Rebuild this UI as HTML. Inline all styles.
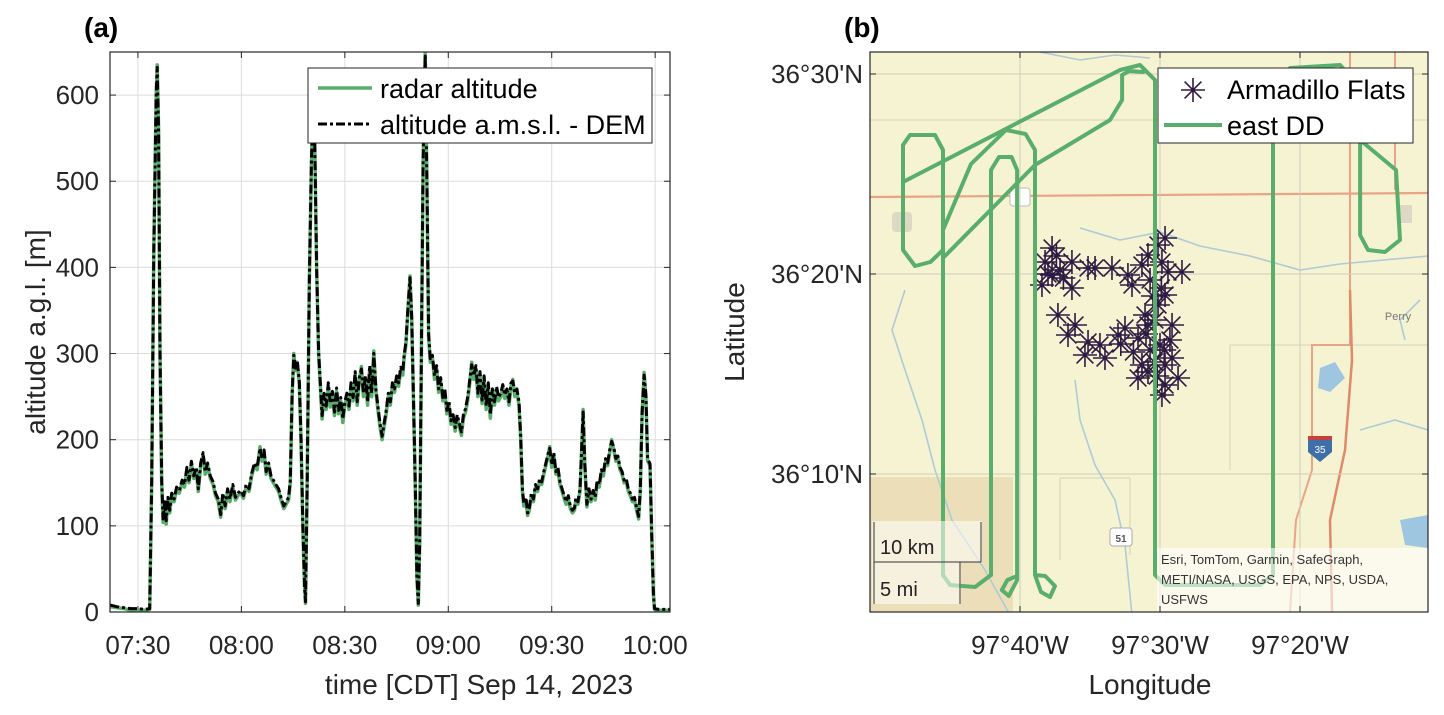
<!DOCTYPE html>
<html><head><meta charset="utf-8">
<style>
html,body{margin:0;padding:0;background:#fff;}
svg{display:block;font-family:"Liberation Sans",Arial,sans-serif;}
</style></head>
<body>
<svg id="fig" width="1444" height="715" viewBox="0 0 1444 715" xmlns="http://www.w3.org/2000/svg">
  <g id="panelA"></g>
  <g id="panelB"></g>
</svg>
<script>
// ---------------- Panel (a) data ----------------
const timeMin = [22,24,26,28,30,32,33.4,34.0,34.6,35.3,35.6,36.0,36.4,36.9,37.3,37.8,38.2,38.7,39.2,39.8,40.5,41.2,42.0,42.8,43.5,44.2,44.8,45.5,46.2,46.9,47.5,48.2,48.9,49.5,50.2,51.0,51.8,52.5,53.3,54.0,54.6,55.3,56.0,56.7,57.5,58.3,59.0,59.8,60.6,61.4,62.2,63.0,63.8,64.6,65.4,66.0,66.6,67.2,67.9,68.6,69.3,70.0,70.8,71.5,72.3,73.0,73.7,74.2,74.7,75.2,75.7,76.2,76.8,77.3,77.8,78.3,78.6,79.1,79.7,80.3,80.8,81.3,81.8,82.4,83.4,84.0,84.6,85.2,85.8,86.4,87.0,87.6,88.2,88.8,89.4,90.0,90.6,91.2,91.8,92.4,93.0,93.6,94.2,94.8,95.4,96.0,96.6,97.2,97.8,98.4,99.0,99.6,100.2,100.8,101.4,102.0,102.6,103.2,103.8,104.4,105.0,105.6,106.2,106.8,107.2,107.7,108.3,108.9,109.4,109.9,110.4,110.9,111.3,111.7,112.2,112.7,113.3,113.8,114.3,114.8,115.4,116.0,116.6,117.2,117.8,118.4,119.0,119.6,120.2,120.8,121.4,122.0,122.6,123.2,123.8,124.4,125.0,125.6,126.2,126.8,127.4,128.0,128.6,129.2,129.8,130.4,131.0,131.6,132.2,132.8,133.4,134.0,134.6,135.2,135.8,136.4,137.0,137.6,138.2,138.7,139.3,139.9,140.5,141.0,141.5,141.9,142.5,143.0,143.5,144.1,144.7,145.3,145.9,146.5,147.1,147.7,148.3,148.9,149.4,150.0,150.6,151.2,151.8,152.4,153.0,153.6,154.2,154.8,155.4,156.0,156.6,157.0,157.6,158.2,158.6,159.1,159.6,160.2,160.8,161.4,162.0,162.6,163.2,163.8,164.4,165.0,165.6,166.2,166.8,167.4,168.0,168.6,169.2,169.8,170.4,171.0,171.6,172.2,172.8,173.4,174.0,174.6,175.2,175.7,176.2,176.8,177.3,177.8,178.5,179.0,179.5,179.8,181,183,184.3];
const radarAlt = [6,5,4,2,3,2,3,150,420,600,635,560,300,150,104,125,102,130,115,135,128,142,138,150,145,165,150,172,155,165,140,170,182,160,170,155,148,135,128,110,135,120,140,128,145,130,135,138,132,145,140,158,170,165,192,175,185,160,170,155,150,145,140,130,120,125,130,150,250,300,280,290,265,200,100,30,10,150,380,520,590,540,400,300,224,250,235,262,238,252,228,256,230,245,220,240,250,235,262,245,275,240,268,285,250,270,240,282,250,303,255,235,215,200,215,230,250,240,262,255,270,262,280,275,295,310,350,390,340,250,150,40,8,80,300,520,648,500,320,290,295,270,282,255,268,245,255,230,240,218,225,210,225,215,205,225,232,245,265,290,270,282,250,275,242,270,235,262,225,255,240,258,245,250,260,248,255,240,262,270,250,255,240,200,140,123,130,112,118,135,128,145,140,152,148,160,170,180,192,168,182,160,165,148,140,132,125,132,120,115,118,130,125,140,180,235,170,122,140,128,138,130,150,145,162,158,175,170,185,200,188,175,178,165,160,150,152,140,135,128,130,118,108,140,230,278,250,175,170,90,20,3,2,2,2];
const demAlt = [8,6,5,4,4,3,4,152,418,602,632,555,302,152,108,128,106,133,118,138,131,145,141,153,148,168,153,175,158,168,143,173,185,163,173,158,151,138,131,113,138,123,143,131,148,133,138,141,135,148,143,161,173,168,190,178,188,163,173,158,153,148,143,133,123,128,133,153,252,298,283,292,268,203,103,32,12,152,382,522,588,542,402,302,228,254,239,266,242,256,232,260,234,249,224,244,254,239,266,249,279,244,272,282,254,274,244,286,254,300,259,239,219,204,219,234,254,244,266,259,274,266,284,279,298,313,352,388,342,252,152,42,10,82,302,522,645,502,323,294,298,274,286,259,272,249,259,234,244,222,229,214,229,219,209,229,236,249,269,287,274,286,254,279,246,274,239,266,229,259,244,262,249,254,264,252,259,244,266,268,254,259,244,204,143,126,133,115,121,138,131,148,143,155,151,163,173,183,190,171,185,163,168,151,143,135,128,135,123,118,121,133,128,143,182,232,173,125,143,131,141,133,153,148,165,161,178,173,188,198,191,178,181,168,163,153,155,143,138,131,133,121,111,142,232,275,252,178,172,92,22,4,3,3,3];
const xTickMin = [30,60,90,120,150,180];
const xTickLabels = ["07:30","08:00","08:30","09:00","09:30","10:00"];
const yTicks = [0,100,200,300,400,500,600];

// ---------------- Panel (b) data ----------------
// longitude in arc-minutes west of 97°, latitude in arc-minutes north of 36°
const lonTicks = [40,30,20];
const lonTickLabels = ["97°40'W","97°30'W","97°20'W"];
const latTicks = [30,20,10];
const latTickLabels = ["36°30'N","36°20'N","36°10'N"];
const flatsLon = [37.71,38.21,37.71,38.43,36.29,36.29,34.64,33.43,32.29,32.0,31.29,30.86,30.14,29.64,29.86,29.43,28.43,29.64,30.14,37.29,36.07,36.57,35.14,35.36,33.93,33.0,32.5,31.57,31.07,30.86,31.29,30.86,29.64,29.14,29.14,28.71,29.64,29.86,31.57,37.14,35.14,30.71,30.36,30.0,34.29,30.71,29.29,38.0,37.4,36.9,32.8,31.9,30.5,29.9,30.4,31.0,29.7,30.2];
const flatsLat = [21.3,20.6,19.95,19.45,19.3,20.6,20.3,20.3,19.95,19.45,20.45,20.95,21.45,21.8,20.6,20.1,20.1,18.95,18.45,17.95,17.45,16.95,16.6,15.95,15.8,16.95,17.3,16.8,17.95,17.45,15.45,15.1,15.45,15.8,17.45,14.8,14.45,13.95,14.8,20.2,20.3,19.7,17.7,16.45,16.45,16.2,16.7,20.0,20.9,19.8,16.5,16.1,18.9,19.3,15.6,17.0,16.2,14.9];
const track1Lon = [45.5,45.5,46.07,47.86,48.36,48.36,47.5,46.4,45.5];
const track1Lat = [4.95,26.2,26.95,26.95,26.45,21.2,20.4,20.6,21.2];
const track2Lon = [48.36,32.86,31.43,30.36,30.36,29.64,22.86,21.93,21.93,20.71,17.14,15.86,15.71,13.14,12.86,13.93,15.14,15.71,15.71];
const track2Lat = [24.6,30.2,30.45,29.7,4.95,4.45,4.45,4.95,29.45,30.3,30.45,29.45,26.7,25.2,21.7,21.1,21.2,21.95,26.7];
const track3Lon = [45.5,38.93,33.57,32.71,32.71,32.2,31.2];
const track3Lat = [20.8,25.45,27.7,28.7,29.95,30.15,30.1];
const track4Lon = [45.5,43.5,41.0,39.6,38.93,38.93,38.5,37.86,37.5,38.2,38.93];
const track4Lat = [22.2,25.5,27.2,27.0,26.2,4.95,4.1,3.85,4.4,4.9,4.95];
const track5Lon = [42.07,42.07,41.5,40.6,40.21,40.21,40.8,41.3,40.9,40.21];
const track5Lat = [4.95,25.2,25.85,25.85,25.2,4.7,3.9,4.2,4.7,4.9];
const track6Lon = [45.5,45.0,43.21,42.07];
const track6Lat = [4.95,4.45,4.35,4.95];

const NS = "http://www.w3.org/2000/svg";
function mk(parent, tag, attrs, text){
  const el = document.createElementNS(NS, tag);
  for (const k in attrs) el.setAttribute(k, attrs[k]);
  if (text !== undefined) el.textContent = text;
  parent.appendChild(el);
  return el;
}
const TICK_FS = 26, TITLE_FS = 28, LEG_FS = 27;

// ---------- Panel (a) ----------
const A = document.getElementById('panelA');
const AX = {l:110, r:670, t:52, b:612, tmin:21.9, tmax:184.3, vmax:650};
const xa = t => AX.l + (t - AX.tmin) * (AX.r - AX.l) / (AX.tmax - AX.tmin);
const ya = v => AX.b - v * (AX.b - AX.t) / AX.vmax;

let bgA = mk(A,'rect',{x:AX.l,y:AX.t,width:AX.r-AX.l,height:AX.b-AX.t,fill:'#fff'});



xTickMin.forEach((t,i)=>{
  const g = mk(A,'line',{x1:xa(t),x2:xa(t),y1:AX.t,y2:AX.b,stroke:'#dcdcdc','stroke-width':1});
  
  
  mk(A,'line',{x1:xa(t),x2:xa(t),y1:AX.b,y2:AX.b-6,stroke:'#262626','stroke-width':1});
  mk(A,'line',{x1:xa(t),x2:xa(t),y1:AX.t,y2:AX.t+6,stroke:'#262626','stroke-width':1});
  const lb = mk(A,'text',{x:xa(t),y:654,'text-anchor':'middle','font-size':TICK_FS,fill:'#262626'},xTickLabels[i]);
  
  
});
yTicks.forEach(v=>{
  const g = mk(A,'line',{x1:AX.l,x2:AX.r,y1:ya(v),y2:ya(v),stroke:'#dcdcdc','stroke-width':1});
  
  
  mk(A,'line',{x1:AX.l,x2:AX.l+6,y1:ya(v),y2:ya(v),stroke:'#262626','stroke-width':1});
  mk(A,'line',{x1:AX.r,x2:AX.r-6,y1:ya(v),y2:ya(v),stroke:'#262626','stroke-width':1});
  const lb = mk(A,'text',{x:99,y:ya(v)+9,'text-anchor':'end','font-size':TICK_FS,fill:'#262626'},String(v));
  
  
});

function pts(xs, ys, fx, fy){ return xs.map((x,i)=>fx(x).toFixed(1)+','+fy(ys[i]).toFixed(1)).join(' '); }

const radarLine = mk(A,'polyline',{points:pts(timeMin,radarAlt,xa,ya),fill:'none',stroke:'#5aae6c','stroke-width':3.5,'stroke-linejoin':'round'});


const demLine = mk(A,'polyline',{points:pts(timeMin,demAlt,xa,ya),fill:'none',stroke:'#000','stroke-width':3,'stroke-dasharray':'9 3 3 3','stroke-linejoin':'round'});



const boxA = mk(A,'rect',{x:AX.l,y:AX.t,width:AX.r-AX.l,height:AX.b-AX.t,fill:'none',stroke:'#262626','stroke-width':1.2});



// legend a
const legA = mk(A,'g',{});


mk(legA,'rect',{x:308,y:68,width:344,height:75,fill:'#fff',stroke:'#262626','stroke-width':1});
mk(legA,'line',{x1:318,x2:372,y1:88,y2:88,stroke:'#5aae6c','stroke-width':3.5});
const le1 = mk(legA,'text',{x:380,y:98,'font-size':LEG_FS,fill:'#000'},'radar altitude');


mk(legA,'line',{x1:318,x2:372,y1:124,y2:124,stroke:'#000','stroke-width':3,'stroke-dasharray':'9 3 3 3'});
const le2 = mk(legA,'text',{x:380,y:134,'font-size':LEG_FS,fill:'#000'},'altitude a.m.s.l. - DEM');



const yl = mk(A,'text',{x:0,y:0,transform:'translate(45,332) rotate(-90)','text-anchor':'middle','font-size':TITLE_FS,fill:'#262626'},'altitude a.g.l. [m]');


const xl = mk(A,'text',{x:479,y:694,'text-anchor':'middle','font-size':TITLE_FS,fill:'#262626'},'time [CDT] Sep 14, 2023');


const ta = mk(A,'text',{x:84,y:37,'font-size':28,'font-weight':'bold',fill:'#000'},'(a)');



// ---------- Panel (b) ----------
const B = document.getElementById('panelB');
const BX = {l:870, r:1428, t:52, b:612};
const xb = m => 1020 + (40 - m) * 14;
const yb = m => 274 - (m - 20) * 20;

const defs = mk(B,'defs',{});
const cp = mk(defs,'clipPath',{id:'mapclip'});
mk(cp,'rect',{x:BX.l,y:BX.t,width:BX.r-BX.l,height:BX.b-BX.t});
const map = mk(B,'g',{'clip-path':'url(#mapclip)'});


mk(map,'rect',{x:BX.l,y:BX.t,width:BX.r-BX.l,height:BX.b-BX.t,fill:'#f6f3d2'});
mk(map,'rect',{x:870,y:477,width:143,height:140,fill:'#ebdeb8'});
[[870,120,1428,120],[1060,478,1130,478],[1230,345,1428,345],[1060,478,1060,560],[1230,345,1230,470],[1130,478,1130,555]].forEach(s=>{
  mk(map,'line',{x1:s[0],y1:s[1],x2:s[2],y2:s[3],stroke:'#e4dcc0','stroke-width':1.5});
});
['M905,290 L892,330 L905,370 L922,420 L935,470 L952,520 L985,570 L1010,615',
 'M1075,380 L1080,420 L1095,465 L1115,500 L1125,545 L1132,615',
 'M1080,228 L1120,240 L1160,232 L1200,246 L1250,256 L1300,270 L1340,264 L1428,256',
 'M1040,52 L1080,60 L1115,55 L1150,58',
 'M1420,300 L1400,320 L1405,340',
 'M1360,430 L1395,420 L1428,430'].forEach(d=>{
  mk(map,'path',{d:d,fill:'none',stroke:'#aecbd6','stroke-width':1.6});
});
mk(map,'path',{d:'M1320,368 L1335,362 L1345,378 L1330,392 L1318,388 Z',fill:'#9fc6e0'});
mk(map,'path',{d:'M1400,520 L1428,515 L1428,548 L1405,545 Z',fill:'#9fc6e0'});
mk(map,'path',{d:'M870,197 L1428,193',fill:'none',stroke:'#e9a486','stroke-width':2.2});
mk(map,'path',{d:'M1350,52 L1350,345 L1312,345 L1312,470 L1296,520 L1290,612',fill:'none',stroke:'#e9a486','stroke-width':2});
mk(map,'path',{d:'M1395,52 L1395,190',fill:'none',stroke:'#e9a486','stroke-width':2});
mk(map,'path',{d:'M1350,290 L1352,360 L1345,450 L1330,520 L1332,612',fill:'none',stroke:'#e08a6a','stroke-width':2.5});
mk(map,'rect',{x:892,y:212,width:20,height:20,rx:4,fill:'#ded8c4'});
mk(map,'rect',{x:1400,y:205,width:12,height:18,fill:'#ded8c4'});
mk(map,'rect',{x:1010,y:188,width:20,height:18,rx:3,fill:'#fff',stroke:'#bbb'});
mk(map,'rect',{x:1110,y:528,width:22,height:18,rx:3,fill:'#fff',stroke:'#aaa'});
mk(map,'text',{x:1121,y:542,'text-anchor':'middle','font-size':10,'font-weight':'bold',fill:'#555'},'51');
mk(map,'path',{d:'M1308,438 L1332,438 L1332,452 L1320,462 L1308,452 Z',fill:'#3f6fa8'});
mk(map,'rect',{x:1308,y:436,width:24,height:4,fill:'#c8403a'});
mk(map,'text',{x:1320,y:453,'text-anchor':'middle','font-size':10,fill:'#fff'},'35');
mk(map,'text',{x:1398,y:320,'text-anchor':'middle','font-size':11,fill:'#777'},'Perry');

lonTicks.forEach(m=>{
  mk(B,'line',{x1:xb(m),x2:xb(m),y1:BX.t,y2:BX.b,stroke:'#cfcdbb','stroke-width':1});
});
latTicks.forEach(m=>{
  mk(B,'line',{x1:BX.l,x2:BX.r,y1:yb(m),y2:yb(m),stroke:'#cfcdbb','stroke-width':1});
});

const trackG = mk(B,'g',{'clip-path':'url(#mapclip)'});


[[track1Lon,track1Lat],[track2Lon,track2Lat],[track3Lon,track3Lat],[track4Lon,track4Lat],[track5Lon,track5Lat],[track6Lon,track6Lat]].forEach(tr=>{
  const p = mk(trackG,'polyline',{points:pts(tr[0],tr[1],xb,yb),fill:'none',stroke:'#5aae6c','stroke-width':4,'stroke-linejoin':'round','stroke-linecap':'round'});
  
  
});

const mg = mk(B,'g',{});


function star(g,cx,cy,r,sw){
  const d = `M${cx-r},${cy}L${cx+r},${cy}M${cx},${cy-r}L${cx},${cy+r}M${cx-r*0.7},${cy-r*0.7}L${cx+r*0.7},${cy+r*0.7}M${cx-r*0.7},${cy+r*0.7}L${cx+r*0.7},${cy-r*0.7}`;
  return mk(g,'path',{d:d,stroke:'#2e1a44','stroke-width':sw,fill:'none'});
}
flatsLon.forEach((lo,i)=>{
  const s = star(mg,xb(lo),yb(flatsLat[i]),12,1.6);
  
  
});
mk(B,'line',{x1:xb(30.36),x2:xb(30.36),y1:yb(22.5),y2:yb(13),stroke:'#5aae6c','stroke-width':4});
mk(B,'line',{x1:xb(38.93),x2:xb(38.93),y1:yb(22.5),y2:yb(13),stroke:'#5aae6c','stroke-width':4});

const sb = mk(B,'g',{});


mk(sb,'rect',{x:872,y:521,width:110,height:41,fill:'rgba(255,255,255,0.55)'});
mk(sb,'rect',{x:872,y:562,width:89,height:42,fill:'rgba(255,255,255,0.55)'});
mk(sb,'path',{d:'M874,522 L874,604 M874,562 L981,562 M981,522 L981,562 M960,562 L960,604',stroke:'#333','stroke-width':1,fill:'none'});
mk(sb,'text',{x:880,y:554,'font-size':20,fill:'#222'},'10 km');
mk(sb,'text',{x:880,y:596,'font-size':20,fill:'#222'},'5 mi');

const at = mk(B,'g',{});


mk(at,'rect',{x:1157,y:548,width:271,height:64,fill:'rgba(255,255,255,0.6)'});
mk(at,'text',{x:1161,y:564,'font-size':13,fill:'#333'},'Esri, TomTom, Garmin, SafeGraph,');
mk(at,'text',{x:1161,y:584,'font-size':13,fill:'#333'},'METI/NASA, USGS, EPA, NPS, USDA,');
mk(at,'text',{x:1161,y:604,'font-size':13,fill:'#333'},'USFWS');

const boxB = mk(B,'rect',{x:BX.l,y:BX.t,width:BX.r-BX.l,height:BX.b-BX.t,fill:'none',stroke:'#262626','stroke-width':1.2});


lonTicks.forEach((m,i)=>{
  mk(B,'line',{x1:xb(m),x2:xb(m),y1:BX.b,y2:BX.b-6,stroke:'#262626'});
  mk(B,'line',{x1:xb(m),x2:xb(m),y1:BX.t,y2:BX.t+6,stroke:'#262626'});
  const lb = mk(B,'text',{x:xb(m),y:654,'text-anchor':'middle','font-size':TICK_FS,fill:'#262626'},lonTickLabels[i]);
  
  
});
latTicks.forEach((m,i)=>{
  mk(B,'line',{x1:BX.l,x2:BX.l+6,y1:yb(m),y2:yb(m),stroke:'#262626'});
  mk(B,'line',{x1:BX.r,x2:BX.r-6,y1:yb(m),y2:yb(m),stroke:'#262626'});
  const lb = mk(B,'text',{x:863,y:yb(m)+9,'text-anchor':'end','font-size':TICK_FS,fill:'#262626'},latTickLabels[i]);
  
  
});

const legB = mk(B,'g',{});


mk(legB,'rect',{x:1158,y:68,width:255,height:75,fill:'#fff',stroke:'#262626','stroke-width':1});
star(legB,1193,90,12,1.6);
const lb1 = mk(legB,'text',{x:1227,y:99,'font-size':LEG_FS,fill:'#000'},'Armadillo Flats');


mk(legB,'line',{x1:1164,x2:1222,y1:125,y2:125,stroke:'#5aae6c','stroke-width':4});
const lb2 = mk(legB,'text',{x:1227,y:135,'font-size':LEG_FS,fill:'#000'},'east DD');



const ylb = mk(B,'text',{x:0,y:0,transform:'translate(744,332) rotate(-90)','text-anchor':'middle','font-size':TITLE_FS,fill:'#262626'},'Latitude');


const xlb = mk(B,'text',{x:1150,y:694,'text-anchor':'middle','font-size':TITLE_FS,fill:'#262626'},'Longitude');


const tb = mk(B,'text',{x:844,y:37,'font-size':28,'font-weight':'bold',fill:'#000'},'(b)');


</script>
</body></html>
